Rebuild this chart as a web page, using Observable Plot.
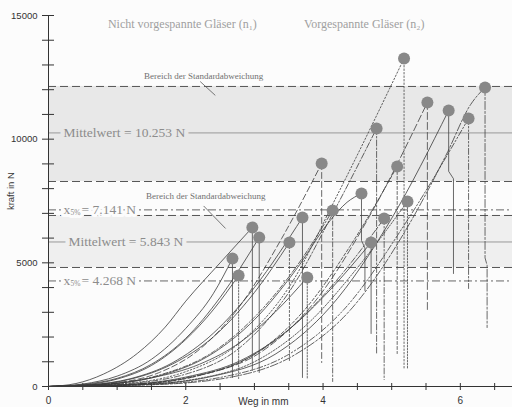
<!DOCTYPE html>
<html><head><meta charset="utf-8">
<script src="https://cdn.jsdelivr.net/npm/d3@7"></script>
<script src="https://cdn.jsdelivr.net/npm/@observablehq/plot@0.6"></script>
<style>body{margin:0;background:#fff} svg{display:block}</style>
</head><body><div id="chart"></div>
<script>
// ---- data ----
const ids      = ["A","B","C","D","E","F","G","H","I","J","K","L","M","N","O","P","Q","R","S","T"];
const failX    = [2.68,2.77,2.97,3.07,3.51,3.70,3.77,3.98,4.14,4.56,4.70,4.78,4.89,5.08,5.18,5.23,5.52,5.83,6.12,6.36];
const failY    = [5176,4488,6429,6025,5823,6834,4408,9017,7117,7804,5823,10433,6793,8896,13263,7481,11484,11160,10837,12091];
const dropEndY = [364,323,647,566,1051,364,323,970,202,3882,2143,1334,283,1334,728,728,3073,4569,3963,2386];
const dropKink = {J:[5900,0.05], R:[8700,0.07], T:[5200,0.03]};
const curvePts = {
  A:[[0,0],[0.5,100],[1.0,420],[1.5,1100],[2.0,2350],[2.4,3750],[2.68,5176]],
  B:[[0,0],[0.5,60],[1.0,300],[1.5,850],[2.0,1900],[2.4,3100],[2.77,4488]],
  C:[[0,0],[0.4,120],[0.8,500],[1.3,1350],[1.7,2400],[2.0,3450],[2.5,5000],[2.97,6429]],
  D:[[0,0],[0.5,80],[1.0,330],[1.5,900],[2.0,1950],[2.5,3600],[3.07,6025]],
  E:[[0,0],[0.6,60],[1.2,300],[1.8,900],[2.4,2000],[3.0,3800],[3.51,5823]],
  F:[[0,0],[0.6,70],[1.2,320],[1.8,950],[2.4,2150],[3.0,4000],[3.70,6834]],
  G:[[0,0],[0.8,80],[1.5,350],[2.2,900],[2.8,1800],[3.3,3000],[3.77,4408]],
  H:[[0,0],[0.8,100],[1.6,550],[2.2,1500],[2.8,3300],[3.4,6000],[3.98,9017]],
  I:[[0,0],[0.8,90],[1.6,450],[2.4,1400],[3.0,2800],[3.6,4800],[4.14,7117]],
  J:[[0,0],[0.8,80],[1.6,420],[2.4,1350],[3.0,2700],[3.6,4700],[4.1,6700],[4.35,7450],[4.56,7804]],
  K:[[0,0],[1.0,60],[2.0,380],[2.8,1050],[3.5,2300],[4.1,3900],[4.70,5823]],
  L:[[0,0],[1.0,90],[2.0,500],[2.8,1600],[3.5,3800],[4.2,7300],[4.78,10433]],
  M:[[0,0],[1.0,60],[2.0,350],[2.8,1000],[3.5,2300],[4.2,4300],[4.89,6793]],
  N:[[0,0],[1.2,80],[2.2,450],[3.0,1300],[3.7,3000],[4.4,5700],[5.08,8896]],
  O:[[0,0],[1.0,100],[2.0,600],[2.8,1800],[3.5,4000],[4.2,7700],[5.18,13263]],
  P:[[0,0],[1.2,60],[2.2,330],[3.0,1000],[3.8,2600],[4.5,4800],[5.23,7481]],
  Q:[[0,0],[1.2,80],[2.2,450],[3.1,1400],[3.9,3500],[4.7,7000],[5.52,11484]],
  R:[[0,0],[1.3,70],[2.4,420],[3.3,1300],[4.1,3200],[5.0,6800],[5.83,11160]],
  S:[[0,0],[1.4,70],[2.6,420],[3.5,1300],[4.3,3100],[5.2,6600],[6.12,10837]],
  T:[[0,0],[1.5,70],[2.7,400],[3.6,1300],[4.4,3100],[5.2,6300],[5.8,9400],[6.15,11400],[6.36,12091]]
};
const sdUpper = [8289, 12131];
const sdLower = [4812, 6915];
const meanVals = [10253, 5843];
const x5Vals   = [7141, 4268];
const meanLabels = ["Mittelwert = 10.253 N", "Mittelwert = 5.843 N"];
const x5Rest     = ["= 7.141 N", "= 4.268 N"];
const meanLabelX = [0.22, 0.29];
const x5LabelX   = [0.22, 0.22];
const titles   = ["Nicht vorgespannte Gläser (n\u2081)", "Vorgespannte Gläser (n\u2082)"];
const titleX   = [1.95, 4.60];
const titleY   = [14650, 14650];
const sdText   = ["Bereich der Standardabweichung", "Bereich der Standardabweichung"];
const sdTextX  = [2.26, 2.29];
const sdTextY  = [12560, 7680];
const leaders  = [{x1:2.21,y1:12330,x2:2.43,y2:11770},{x1:2.26,y1:7300,x2:2.58,y2:6390}];
const xMinor = [0,0.5,1,1.5,2,2.5,3,3.5,4,4.5,5,5.5,6,6.5];
const xMajor = [0,2,4,6];
const yMinor = [0,1000,2000,3000,4000,5000,6000,7000,8000,9000,10000,11000,12000,13000,14000,15000];
const yMajor = [0,5000,10000,15000];
const xTitle = "Weg in mm", yTitle = "kraft in N";

// ---- styles ----
const X0 = 0, X1 = 6.76;
const dash = {H:"6,3", I:"5,2,1.5,2", L:"6,2,1.5,2", M:"6,2,1.5,2", N:"3,2", O:"1.5,2", P:"1.5,1.5", Q:"7,3", S:"6,2,1.5,2,1.5,2", T:"8,2,2,2"};
const dropDash = {...dash, B:"1.5,1.5", G:"1.5,1.5", E:"2,2"};
const serif = "Liberation Serif, Times New Roman, serif";
const sans = "Liberation Sans, Arial, sans-serif";
const labelGray = "#8c8c8c";
const bg = "#fcfcfc";

const dots = ids.map((id,i)=>({id, x:failX[i], y:failY[i]}));

const curveMarks = ids.map(id => Plot.line(curvePts[id], {
  x: d=>d[0], y: d=>d[1], curve: "monotone-x",
  stroke: "#3a3a3a", strokeWidth: 0.8, strokeDasharray: dash[id] || null
}));
const dropMarks = ids.map((id,i) => {
  const k = dropKink[id];
  const pts = k
    ? [[failX[i],failY[i]],[failX[i],k[0]],[failX[i]+k[1],k[0]-300],[failX[i]+k[1],dropEndY[i]]]
    : [[failX[i],failY[i]],[failX[i],dropEndY[i]]];
  return Plot.line(pts, {x:d=>d[0], y:d=>d[1], stroke:"#444", strokeWidth:0.8, strokeDasharray: dropDash[id] || null});
});

// x5% label pieces: "x", subscript "5%", rest
const x5Pieces = [
  {text: ()=>"x", fontSize: 13.5, dx: 0, dy: 0},
  {text: ()=>"5%", fontSize: 7.5, dx: 7, dy: 3},
  {text: (d,i)=>x5Rest[i], fontSize: 13.5, dx: 18, dy: 0}
];
const x5Base = {x: (d,i)=>x5LabelX[i], y: d=>d, fontFamily: serif, textAnchor: "start"};
const x5Halo = x5Pieces.map(p => Plot.text(x5Vals, {...x5Base, ...p, fill: "none", stroke: bg, strokeWidth: 6}));
const x5Text = x5Pieces.map(p => Plot.text(x5Vals, {...x5Base, ...p, fill: labelGray}));

const plot = Plot.plot({
  width: 512, height: 407,
  marginLeft: 48, marginRight: 0, marginTop: 15, marginBottom: 21,
  x: {domain: [X0, X1], axis: null},
  y: {domain: [0, 15000], axis: null},
  style: {background: bg, fontFamily: sans},
  marks: [
    Plot.rect([sdUpper], {x1: X0, x2: X1, y1: d=>d[0], y2: d=>d[1], fill: "#e8e8e8"}),
    Plot.rect([sdLower], {x1: X0, x2: X1, y1: d=>d[0], y2: d=>d[1], fill: "#efefef"}),
    Plot.ruleY([...sdUpper, ...sdLower], {stroke: "#555", strokeWidth: 1, strokeDasharray: "8,4"}),
    Plot.ruleY(meanVals, {stroke: "#999", strokeWidth: 1}),
    Plot.ruleY(x5Vals, {stroke: "#666", strokeWidth: 1, strokeDasharray: "8,3,2,3"}),
    Plot.text(meanLabels, {x: (d,i)=>meanLabelX[i], y: (d,i)=>meanVals[i], text: d=>d, textAnchor: "start",
      fontFamily: serif, fontSize: 13.5, fill: labelGray,
      stroke: (d,i)=> i===0 ? "#e8e8e8" : "#efefef", strokeWidth: 9, paintOrder: "stroke"}),
    ...x5Halo,
    ...x5Text,
    Plot.text(sdText, {x: (d,i)=>sdTextX[i], y: (d,i)=>sdTextY[i], text: d=>d, fontFamily: serif, fontSize: 9, fill: "#707070"}),
    Plot.link(leaders, {x1:"x1", y1:"y1", x2:"x2", y2:"y2", stroke:"#555", strokeWidth: 0.8}),
    Plot.text(titles, {x: (d,i)=>titleX[i], y: (d,i)=>titleY[i], text: d=>d, fontFamily: serif, fontSize: 12, fill: "#a0a0a0"}),
    // axes
    Plot.ruleY([0], {stroke: "#333", strokeWidth: 1}),
    Plot.ruleX([0], {stroke: "#333", strokeWidth: 1}),
    Plot.axisX(xMinor, {tickSize: 4, tickPadding: 6, stroke: "#333", fill: "#333", fontSize: 10,
      tickFormat: d => xMajor.includes(d) ? String(d) : ""}),
    Plot.tickX(xMinor, {x: d=>d, stroke: "#333", insetTop: 368}),
    Plot.axisY(yMinor, {tickSize: 6, tickPadding: 5, stroke: "#333", fill: "#333", fontSize: 9.5,
      tickFormat: d => yMajor.includes(d) ? String(d) : ""}),
    Plot.tickY(yMinor, {y: d=>d, stroke: "#333", insetRight: 458}),
    Plot.text([xTitle], {x: 3.13, y: 0, dy: 15, text: d=>d, fontSize: 10, fill: "#333"}),
    Plot.text([yTitle], {x: 0, y: 7900, dx: -38, rotate: -90, text: d=>d, fontSize: 9.5, fill: "#333"}),
    ...curveMarks,
    ...dropMarks,
    Plot.dot(dots, {x: "x", y: "y", r: 6, fill: "#888", stroke: "none"})
  ]
});
document.getElementById("chart").appendChild(plot);
</script>
</body></html>
